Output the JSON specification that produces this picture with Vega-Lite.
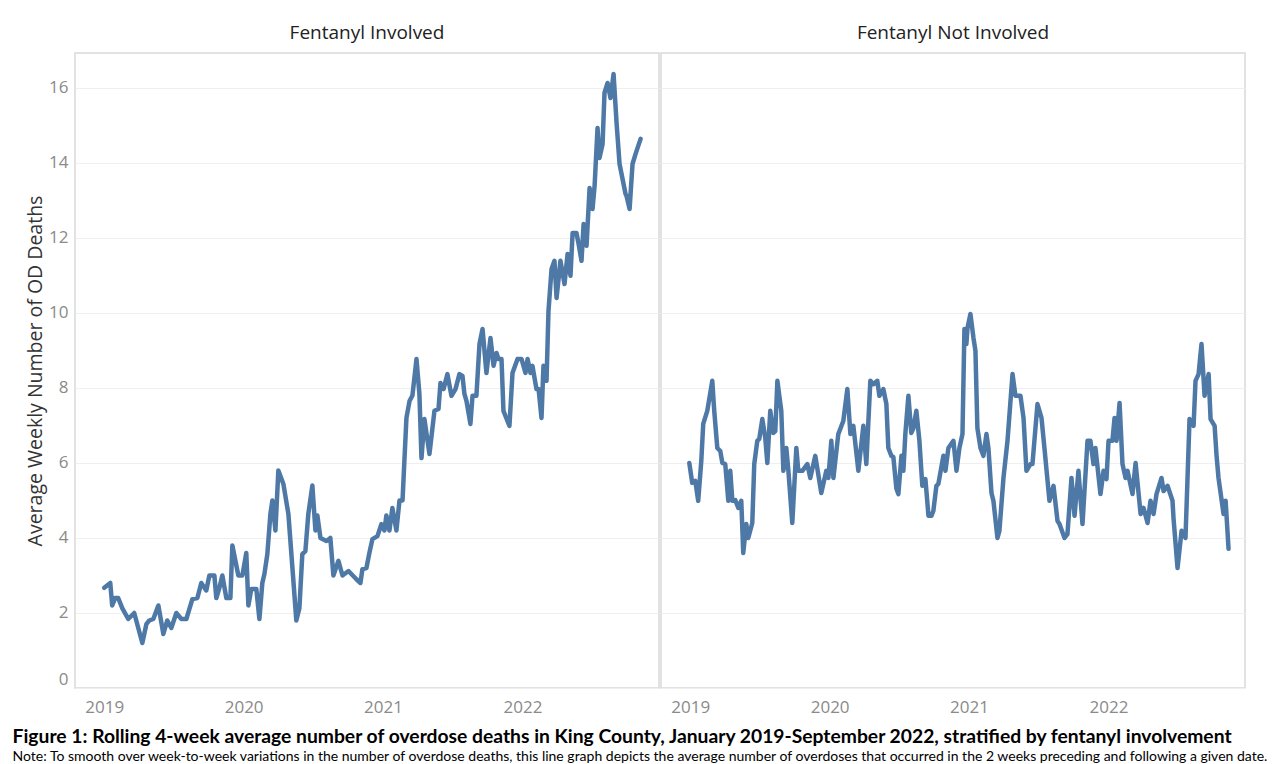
{
"$schema": "https://vega.github.io/schema/vega-lite/v6.json",
"padding": {"left": 12, "top": 24, "right": 5, "bottom": 2},
"background": "white",
"title": {"text": "Figure 1: Rolling 4-week average number of overdose deaths in King County, January 2019-September 2022, stratified by fentanyl involvement", "subtitle": "Note: To smooth over week-to-week variations in the number of overdose deaths, this line graph depicts the average number of overdoses that occurred in the 2 weeks preceding and following a given date.", "orient": "bottom", "anchor": "start", "frame": "bounds", "font": "Lato", "fontSize": 19.3, "fontWeight": "bold", "color": "#000", "subtitleFont": "Lato", "subtitleFontSize": 14, "subtitleColor": "#000", "subtitlePadding": 3, "offset": 13, "dx": -13},
"data": {"values": [
{"g":"Fentanyl Involved","t":2019.000,"v":2.67},{"g":"Fentanyl Involved","t":2019.043,"v":2.8},{"g":"Fentanyl Involved","t":2019.057,"v":2.2},{"g":"Fentanyl Involved","t":2019.079,"v":2.4},{"g":"Fentanyl Involved","t":2019.100,"v":2.4},{"g":"Fentanyl Involved","t":2019.129,"v":2.13},{"g":"Fentanyl Involved","t":2019.172,"v":1.84},{"g":"Fentanyl Involved","t":2019.215,"v":2.0},{"g":"Fentanyl Involved","t":2019.273,"v":1.2},{"g":"Fentanyl Involved","t":2019.302,"v":1.7},{"g":"Fentanyl Involved","t":2019.323,"v":1.8},{"g":"Fentanyl Involved","t":2019.352,"v":1.84},{"g":"Fentanyl Involved","t":2019.388,"v":2.2},{"g":"Fentanyl Involved","t":2019.424,"v":1.44},{"g":"Fentanyl Involved","t":2019.452,"v":1.8},{"g":"Fentanyl Involved","t":2019.481,"v":1.6},{"g":"Fentanyl Involved","t":2019.517,"v":2.0},{"g":"Fentanyl Involved","t":2019.553,"v":1.84},{"g":"Fentanyl Involved","t":2019.589,"v":1.84},{"g":"Fentanyl Involved","t":2019.632,"v":2.37},{"g":"Fentanyl Involved","t":2019.668,"v":2.4},{"g":"Fentanyl Involved","t":2019.696,"v":2.8},{"g":"Fentanyl Involved","t":2019.732,"v":2.6},{"g":"Fentanyl Involved","t":2019.754,"v":3.0},{"g":"Fentanyl Involved","t":2019.790,"v":3.0},{"g":"Fentanyl Involved","t":2019.804,"v":2.4},{"g":"Fentanyl Involved","t":2019.826,"v":2.67},{"g":"Fentanyl Involved","t":2019.847,"v":3.0},{"g":"Fentanyl Involved","t":2019.876,"v":2.4},{"g":"Fentanyl Involved","t":2019.905,"v":2.4},{"g":"Fentanyl Involved","t":2019.919,"v":3.8},{"g":"Fentanyl Involved","t":2019.962,"v":3.0},{"g":"Fentanyl Involved","t":2019.991,"v":3.0},{"g":"Fentanyl Involved","t":2020.019,"v":3.6},{"g":"Fentanyl Involved","t":2020.034,"v":2.2},{"g":"Fentanyl Involved","t":2020.055,"v":2.64},{"g":"Fentanyl Involved","t":2020.091,"v":2.64},{"g":"Fentanyl Involved","t":2020.113,"v":1.84},{"g":"Fentanyl Involved","t":2020.134,"v":2.8},{"g":"Fentanyl Involved","t":2020.149,"v":3.04},{"g":"Fentanyl Involved","t":2020.170,"v":3.57},{"g":"Fentanyl Involved","t":2020.192,"v":4.64},{"g":"Fentanyl Involved","t":2020.206,"v":5.0},{"g":"Fentanyl Involved","t":2020.228,"v":4.2},{"g":"Fentanyl Involved","t":2020.249,"v":5.8},{"g":"Fentanyl Involved","t":2020.285,"v":5.44},{"g":"Fentanyl Involved","t":2020.321,"v":4.64},{"g":"Fentanyl Involved","t":2020.350,"v":3.2},{"g":"Fentanyl Involved","t":2020.378,"v":1.8},{"g":"Fentanyl Involved","t":2020.400,"v":2.13},{"g":"Fentanyl Involved","t":2020.421,"v":3.57},{"g":"Fentanyl Involved","t":2020.443,"v":3.65},{"g":"Fentanyl Involved","t":2020.464,"v":4.64},{"g":"Fentanyl Involved","t":2020.493,"v":5.4},{"g":"Fentanyl Involved","t":2020.515,"v":4.2},{"g":"Fentanyl Involved","t":2020.529,"v":4.6},{"g":"Fentanyl Involved","t":2020.551,"v":4.0},{"g":"Fentanyl Involved","t":2020.594,"v":3.92},{"g":"Fentanyl Involved","t":2020.622,"v":4.0},{"g":"Fentanyl Involved","t":2020.644,"v":3.0},{"g":"Fentanyl Involved","t":2020.680,"v":3.39},{"g":"Fentanyl Involved","t":2020.709,"v":3.0},{"g":"Fentanyl Involved","t":2020.752,"v":3.12},{"g":"Fentanyl Involved","t":2020.809,"v":2.9},{"g":"Fentanyl Involved","t":2020.838,"v":2.8},{"g":"Fentanyl Involved","t":2020.852,"v":3.17},{"g":"Fentanyl Involved","t":2020.881,"v":3.2},{"g":"Fentanyl Involved","t":2020.902,"v":3.6},{"g":"Fentanyl Involved","t":2020.924,"v":3.97},{"g":"Fentanyl Involved","t":2020.960,"v":4.05},{"g":"Fentanyl Involved","t":2020.988,"v":4.37},{"g":"Fentanyl Involved","t":2021.010,"v":4.2},{"g":"Fentanyl Involved","t":2021.024,"v":4.6},{"g":"Fentanyl Involved","t":2021.046,"v":4.2},{"g":"Fentanyl Involved","t":2021.067,"v":4.8},{"g":"Fentanyl Involved","t":2021.096,"v":4.2},{"g":"Fentanyl Involved","t":2021.118,"v":5.0},{"g":"Fentanyl Involved","t":2021.140,"v":5.0},{"g":"Fentanyl Involved","t":2021.150,"v":5.8},{"g":"Fentanyl Involved","t":2021.168,"v":7.2},{"g":"Fentanyl Involved","t":2021.190,"v":7.65},{"g":"Fentanyl Involved","t":2021.211,"v":7.8},{"g":"Fentanyl Involved","t":2021.240,"v":8.77},{"g":"Fentanyl Involved","t":2021.261,"v":7.84},{"g":"Fentanyl Involved","t":2021.276,"v":6.13},{"g":"Fentanyl Involved","t":2021.297,"v":7.17},{"g":"Fentanyl Involved","t":2021.333,"v":6.24},{"g":"Fentanyl Involved","t":2021.369,"v":7.39},{"g":"Fentanyl Involved","t":2021.398,"v":7.44},{"g":"Fentanyl Involved","t":2021.412,"v":8.13},{"g":"Fentanyl Involved","t":2021.434,"v":7.97},{"g":"Fentanyl Involved","t":2021.462,"v":8.37},{"g":"Fentanyl Involved","t":2021.491,"v":7.79},{"g":"Fentanyl Involved","t":2021.520,"v":7.97},{"g":"Fentanyl Involved","t":2021.548,"v":8.37},{"g":"Fentanyl Involved","t":2021.570,"v":8.32},{"g":"Fentanyl Involved","t":2021.584,"v":7.84},{"g":"Fentanyl Involved","t":2021.599,"v":7.65},{"g":"Fentanyl Involved","t":2021.627,"v":7.04},{"g":"Fentanyl Involved","t":2021.642,"v":7.79},{"g":"Fentanyl Involved","t":2021.670,"v":7.79},{"g":"Fentanyl Involved","t":2021.692,"v":9.17},{"g":"Fentanyl Involved","t":2021.714,"v":9.57},{"g":"Fentanyl Involved","t":2021.742,"v":8.4},{"g":"Fentanyl Involved","t":2021.771,"v":9.33},{"g":"Fentanyl Involved","t":2021.793,"v":8.59},{"g":"Fentanyl Involved","t":2021.814,"v":8.93},{"g":"Fentanyl Involved","t":2021.828,"v":8.77},{"g":"Fentanyl Involved","t":2021.850,"v":8.77},{"g":"Fentanyl Involved","t":2021.864,"v":7.39},{"g":"Fentanyl Involved","t":2021.907,"v":6.99},{"g":"Fentanyl Involved","t":2021.929,"v":8.4},{"g":"Fentanyl Involved","t":2021.965,"v":8.77},{"g":"Fentanyl Involved","t":2021.994,"v":8.77},{"g":"Fentanyl Involved","t":2022.022,"v":8.4},{"g":"Fentanyl Involved","t":2022.037,"v":8.77},{"g":"Fentanyl Involved","t":2022.058,"v":8.4},{"g":"Fentanyl Involved","t":2022.072,"v":8.59},{"g":"Fentanyl Involved","t":2022.101,"v":7.97},{"g":"Fentanyl Involved","t":2022.116,"v":7.97},{"g":"Fentanyl Involved","t":2022.137,"v":7.2},{"g":"Fentanyl Involved","t":2022.151,"v":8.59},{"g":"Fentanyl Involved","t":2022.173,"v":8.19},{"g":"Fentanyl Involved","t":2022.187,"v":10.05},{"g":"Fentanyl Involved","t":2022.209,"v":11.17},{"g":"Fentanyl Involved","t":2022.230,"v":11.39},{"g":"Fentanyl Involved","t":2022.245,"v":10.4},{"g":"Fentanyl Involved","t":2022.273,"v":11.39},{"g":"Fentanyl Involved","t":2022.302,"v":10.77},{"g":"Fentanyl Involved","t":2022.324,"v":11.57},{"g":"Fentanyl Involved","t":2022.345,"v":10.99},{"g":"Fentanyl Involved","t":2022.360,"v":12.13},{"g":"Fentanyl Involved","t":2022.388,"v":12.13},{"g":"Fentanyl Involved","t":2022.403,"v":11.84},{"g":"Fentanyl Involved","t":2022.424,"v":11.39},{"g":"Fentanyl Involved","t":2022.439,"v":12.37},{"g":"Fentanyl Involved","t":2022.460,"v":11.79},{"g":"Fentanyl Involved","t":2022.482,"v":13.33},{"g":"Fentanyl Involved","t":2022.503,"v":12.77},{"g":"Fentanyl Involved","t":2022.518,"v":13.39},{"g":"Fentanyl Involved","t":2022.539,"v":14.93},{"g":"Fentanyl Involved","t":2022.553,"v":14.13},{"g":"Fentanyl Involved","t":2022.575,"v":14.5},{"g":"Fentanyl Involved","t":2022.589,"v":15.87},{"g":"Fentanyl Involved","t":2022.611,"v":16.13},{"g":"Fentanyl Involved","t":2022.632,"v":15.73},{"g":"Fentanyl Involved","t":2022.654,"v":16.37},{"g":"Fentanyl Involved","t":2022.676,"v":15.04},{"g":"Fentanyl Involved","t":2022.697,"v":13.97},{"g":"Fentanyl Involved","t":2022.740,"v":13.17},{"g":"Fentanyl Involved","t":2022.747,"v":13.12},{"g":"Fentanyl Involved","t":2022.769,"v":12.77},{"g":"Fentanyl Involved","t":2022.790,"v":13.97},{"g":"Fentanyl Involved","t":2022.812,"v":14.24},{"g":"Fentanyl Involved","t":2022.848,"v":14.64},
{"g":"Fentanyl Not Involved","t":2018.993,"v":6.0},{"g":"Fentanyl Not Involved","t":2019.014,"v":5.47},{"g":"Fentanyl Not Involved","t":2019.036,"v":5.52},{"g":"Fentanyl Not Involved","t":2019.057,"v":4.99},{"g":"Fentanyl Not Involved","t":2019.079,"v":6.05},{"g":"Fentanyl Not Involved","t":2019.093,"v":7.04},{"g":"Fentanyl Not Involved","t":2019.122,"v":7.39},{"g":"Fentanyl Not Involved","t":2019.158,"v":8.19},{"g":"Fentanyl Not Involved","t":2019.172,"v":7.39},{"g":"Fentanyl Not Involved","t":2019.194,"v":6.4},{"g":"Fentanyl Not Involved","t":2019.215,"v":6.32},{"g":"Fentanyl Not Involved","t":2019.230,"v":6.0},{"g":"Fentanyl Not Involved","t":2019.251,"v":5.97},{"g":"Fentanyl Not Involved","t":2019.273,"v":4.99},{"g":"Fentanyl Not Involved","t":2019.287,"v":5.79},{"g":"Fentanyl Not Involved","t":2019.302,"v":4.99},{"g":"Fentanyl Not Involved","t":2019.323,"v":5.01},{"g":"Fentanyl Not Involved","t":2019.345,"v":4.8},{"g":"Fentanyl Not Involved","t":2019.366,"v":4.99},{"g":"Fentanyl Not Involved","t":2019.380,"v":3.6},{"g":"Fentanyl Not Involved","t":2019.402,"v":4.37},{"g":"Fentanyl Not Involved","t":2019.416,"v":4.0},{"g":"Fentanyl Not Involved","t":2019.445,"v":4.4},{"g":"Fentanyl Not Involved","t":2019.459,"v":5.97},{"g":"Fentanyl Not Involved","t":2019.481,"v":6.59},{"g":"Fentanyl Not Involved","t":2019.495,"v":6.64},{"g":"Fentanyl Not Involved","t":2019.517,"v":7.17},{"g":"Fentanyl Not Involved","t":2019.538,"v":6.67},{"g":"Fentanyl Not Involved","t":2019.553,"v":6.0},{"g":"Fentanyl Not Involved","t":2019.574,"v":7.39},{"g":"Fentanyl Not Involved","t":2019.596,"v":6.8},{"g":"Fentanyl Not Involved","t":2019.610,"v":6.85},{"g":"Fentanyl Not Involved","t":2019.625,"v":8.19},{"g":"Fentanyl Not Involved","t":2019.653,"v":7.39},{"g":"Fentanyl Not Involved","t":2019.668,"v":5.79},{"g":"Fentanyl Not Involved","t":2019.689,"v":6.4},{"g":"Fentanyl Not Involved","t":2019.704,"v":5.79},{"g":"Fentanyl Not Involved","t":2019.732,"v":4.4},{"g":"Fentanyl Not Involved","t":2019.761,"v":6.4},{"g":"Fentanyl Not Involved","t":2019.775,"v":5.79},{"g":"Fentanyl Not Involved","t":2019.804,"v":5.79},{"g":"Fentanyl Not Involved","t":2019.840,"v":5.97},{"g":"Fentanyl Not Involved","t":2019.861,"v":5.6},{"g":"Fentanyl Not Involved","t":2019.897,"v":6.19},{"g":"Fentanyl Not Involved","t":2019.940,"v":5.2},{"g":"Fentanyl Not Involved","t":2019.976,"v":5.79},{"g":"Fentanyl Not Involved","t":2019.991,"v":5.6},{"g":"Fentanyl Not Involved","t":2020.012,"v":6.59},{"g":"Fentanyl Not Involved","t":2020.027,"v":5.6},{"g":"Fentanyl Not Involved","t":2020.062,"v":6.77},{"g":"Fentanyl Not Involved","t":2020.098,"v":7.12},{"g":"Fentanyl Not Involved","t":2020.127,"v":7.97},{"g":"Fentanyl Not Involved","t":2020.149,"v":6.77},{"g":"Fentanyl Not Involved","t":2020.170,"v":6.99},{"g":"Fentanyl Not Involved","t":2020.206,"v":5.79},{"g":"Fentanyl Not Involved","t":2020.242,"v":6.99},{"g":"Fentanyl Not Involved","t":2020.263,"v":5.97},{"g":"Fentanyl Not Involved","t":2020.292,"v":8.19},{"g":"Fentanyl Not Involved","t":2020.314,"v":8.1},{"g":"Fentanyl Not Involved","t":2020.342,"v":8.19},{"g":"Fentanyl Not Involved","t":2020.357,"v":7.79},{"g":"Fentanyl Not Involved","t":2020.385,"v":7.97},{"g":"Fentanyl Not Involved","t":2020.407,"v":7.57},{"g":"Fentanyl Not Involved","t":2020.421,"v":6.4},{"g":"Fentanyl Not Involved","t":2020.443,"v":6.19},{"g":"Fentanyl Not Involved","t":2020.457,"v":6.16},{"g":"Fentanyl Not Involved","t":2020.479,"v":5.31},{"g":"Fentanyl Not Involved","t":2020.493,"v":5.17},{"g":"Fentanyl Not Involved","t":2020.515,"v":6.19},{"g":"Fentanyl Not Involved","t":2020.529,"v":5.79},{"g":"Fentanyl Not Involved","t":2020.543,"v":6.77},{"g":"Fentanyl Not Involved","t":2020.565,"v":7.79},{"g":"Fentanyl Not Involved","t":2020.586,"v":6.8},{"g":"Fentanyl Not Involved","t":2020.601,"v":6.93},{"g":"Fentanyl Not Involved","t":2020.622,"v":7.39},{"g":"Fentanyl Not Involved","t":2020.644,"v":6.59},{"g":"Fentanyl Not Involved","t":2020.665,"v":5.39},{"g":"Fentanyl Not Involved","t":2020.687,"v":5.57},{"g":"Fentanyl Not Involved","t":2020.709,"v":4.59},{"g":"Fentanyl Not Involved","t":2020.730,"v":4.59},{"g":"Fentanyl Not Involved","t":2020.744,"v":4.72},{"g":"Fentanyl Not Involved","t":2020.766,"v":5.39},{"g":"Fentanyl Not Involved","t":2020.780,"v":5.44},{"g":"Fentanyl Not Involved","t":2020.816,"v":6.19},{"g":"Fentanyl Not Involved","t":2020.831,"v":5.79},{"g":"Fentanyl Not Involved","t":2020.852,"v":6.4},{"g":"Fentanyl Not Involved","t":2020.888,"v":6.59},{"g":"Fentanyl Not Involved","t":2020.910,"v":5.79},{"g":"Fentanyl Not Involved","t":2020.931,"v":6.4},{"g":"Fentanyl Not Involved","t":2020.953,"v":6.77},{"g":"Fentanyl Not Involved","t":2020.967,"v":9.57},{"g":"Fentanyl Not Involved","t":2020.981,"v":9.17},{"g":"Fentanyl Not Involved","t":2020.989,"v":9.6},{"g":"Fentanyl Not Involved","t":2021.010,"v":9.97},{"g":"Fentanyl Not Involved","t":2021.032,"v":9.33},{"g":"Fentanyl Not Involved","t":2021.046,"v":8.99},{"g":"Fentanyl Not Involved","t":2021.060,"v":6.93},{"g":"Fentanyl Not Involved","t":2021.082,"v":6.4},{"g":"Fentanyl Not Involved","t":2021.103,"v":6.19},{"g":"Fentanyl Not Involved","t":2021.125,"v":6.77},{"g":"Fentanyl Not Involved","t":2021.139,"v":6.4},{"g":"Fentanyl Not Involved","t":2021.161,"v":5.2},{"g":"Fentanyl Not Involved","t":2021.175,"v":4.99},{"g":"Fentanyl Not Involved","t":2021.204,"v":4.0},{"g":"Fentanyl Not Involved","t":2021.218,"v":4.19},{"g":"Fentanyl Not Involved","t":2021.247,"v":5.6},{"g":"Fentanyl Not Involved","t":2021.276,"v":6.59},{"g":"Fentanyl Not Involved","t":2021.312,"v":8.37},{"g":"Fentanyl Not Involved","t":2021.333,"v":7.79},{"g":"Fentanyl Not Involved","t":2021.369,"v":7.79},{"g":"Fentanyl Not Involved","t":2021.391,"v":7.2},{"g":"Fentanyl Not Involved","t":2021.412,"v":5.79},{"g":"Fentanyl Not Involved","t":2021.441,"v":5.97},{"g":"Fentanyl Not Involved","t":2021.455,"v":5.97},{"g":"Fentanyl Not Involved","t":2021.491,"v":7.57},{"g":"Fentanyl Not Involved","t":2021.520,"v":7.2},{"g":"Fentanyl Not Involved","t":2021.541,"v":6.4},{"g":"Fentanyl Not Involved","t":2021.577,"v":4.99},{"g":"Fentanyl Not Involved","t":2021.606,"v":5.39},{"g":"Fentanyl Not Involved","t":2021.635,"v":4.45},{"g":"Fentanyl Not Involved","t":2021.649,"v":4.37},{"g":"Fentanyl Not Involved","t":2021.685,"v":4.0},{"g":"Fentanyl Not Involved","t":2021.706,"v":4.1},{"g":"Fentanyl Not Involved","t":2021.735,"v":5.6},{"g":"Fentanyl Not Involved","t":2021.757,"v":4.59},{"g":"Fentanyl Not Involved","t":2021.785,"v":5.79},{"g":"Fentanyl Not Involved","t":2021.814,"v":4.37},{"g":"Fentanyl Not Involved","t":2021.850,"v":6.59},{"g":"Fentanyl Not Involved","t":2021.871,"v":6.59},{"g":"Fentanyl Not Involved","t":2021.893,"v":5.97},{"g":"Fentanyl Not Involved","t":2021.907,"v":6.4},{"g":"Fentanyl Not Involved","t":2021.943,"v":5.17},{"g":"Fentanyl Not Involved","t":2021.965,"v":5.79},{"g":"Fentanyl Not Involved","t":2021.986,"v":5.57},{"g":"Fentanyl Not Involved","t":2022.001,"v":6.59},{"g":"Fentanyl Not Involved","t":2022.029,"v":6.59},{"g":"Fentanyl Not Involved","t":2022.044,"v":7.2},{"g":"Fentanyl Not Involved","t":2022.058,"v":6.59},{"g":"Fentanyl Not Involved","t":2022.080,"v":7.6},{"g":"Fentanyl Not Involved","t":2022.101,"v":5.97},{"g":"Fentanyl Not Involved","t":2022.123,"v":5.6},{"g":"Fentanyl Not Involved","t":2022.137,"v":5.79},{"g":"Fentanyl Not Involved","t":2022.173,"v":5.17},{"g":"Fentanyl Not Involved","t":2022.195,"v":6.0},{"g":"Fentanyl Not Involved","t":2022.231,"v":4.64},{"g":"Fentanyl Not Involved","t":2022.252,"v":4.8},{"g":"Fentanyl Not Involved","t":2022.281,"v":4.4},{"g":"Fentanyl Not Involved","t":2022.302,"v":4.99},{"g":"Fentanyl Not Involved","t":2022.324,"v":4.64},{"g":"Fentanyl Not Involved","t":2022.345,"v":5.17},{"g":"Fentanyl Not Involved","t":2022.381,"v":5.6},{"g":"Fentanyl Not Involved","t":2022.396,"v":5.25},{"g":"Fentanyl Not Involved","t":2022.424,"v":5.39},{"g":"Fentanyl Not Involved","t":2022.460,"v":4.99},{"g":"Fentanyl Not Involved","t":2022.467,"v":4.53},{"g":"Fentanyl Not Involved","t":2022.496,"v":3.2},{"g":"Fentanyl Not Involved","t":2022.525,"v":4.19},{"g":"Fentanyl Not Involved","t":2022.553,"v":4.0},{"g":"Fentanyl Not Involved","t":2022.582,"v":7.17},{"g":"Fentanyl Not Involved","t":2022.611,"v":6.99},{"g":"Fentanyl Not Involved","t":2022.625,"v":8.19},{"g":"Fentanyl Not Involved","t":2022.647,"v":8.37},{"g":"Fentanyl Not Involved","t":2022.668,"v":9.17},{"g":"Fentanyl Not Involved","t":2022.690,"v":7.79},{"g":"Fentanyl Not Involved","t":2022.719,"v":8.37},{"g":"Fentanyl Not Involved","t":2022.733,"v":7.17},{"g":"Fentanyl Not Involved","t":2022.762,"v":6.99},{"g":"Fentanyl Not Involved","t":2022.776,"v":6.19},{"g":"Fentanyl Not Involved","t":2022.790,"v":5.6},{"g":"Fentanyl Not Involved","t":2022.826,"v":4.64},{"g":"Fentanyl Not Involved","t":2022.841,"v":4.99},{"g":"Fentanyl Not Involved","t":2022.862,"v":3.71}
]},
"facet": {"column": {"field": "g", "type": "nominal", "sort": ["Fentanyl Involved", "Fentanyl Not Involved"], "header": {"title": null, "labelFont": "Open Sans", "labelFontSize": 19, "labelColor": "#222", "labelPadding": 9}}},
"spacing": 0,
"spec": {
  "width": 584,
  "height": 635,
  "mark": {"type": "line", "strokeWidth": 4.5, "color": "#4e79a7", "strokeJoin": "round", "strokeCap": "round"},
  "encoding": {
    "x": {"field": "t", "type": "quantitative", "scale": {"domain": [2018.79, 2022.98], "nice": false, "zero": false}, "axis": {"values": [2019, 2020, 2021, 2022], "format": "d", "title": null, "grid": false, "domain": false, "ticks": false, "labelFont": "Open Sans", "labelFontSize": 17, "labelColor": "#8a8a8a", "labelPadding": 10}},
    "y": {"field": "v", "type": "quantitative", "scale": {"domain": [0, 16.93], "nice": false}, "axis": {"values": [0, 2, 4, 6, 8, 10, 12, 14, 16], "title": "Average Weekly Number of OD Deaths", "titleFont": "Open Sans", "titleFontSize": 19.5, "titleFontWeight": "normal", "titleColor": "#333", "titlePadding": 3, "grid": true, "gridColor": "#efefef", "domain": false, "ticks": false, "labelFont": "Open Sans", "labelFontSize": 17, "labelColor": "#8a8a8a", "labelPadding": 6, "labelFlush": true}}
  }
},
"config": {"view": {"stroke": "#d9d9d9", "strokeWidth": 1.5}}
}
